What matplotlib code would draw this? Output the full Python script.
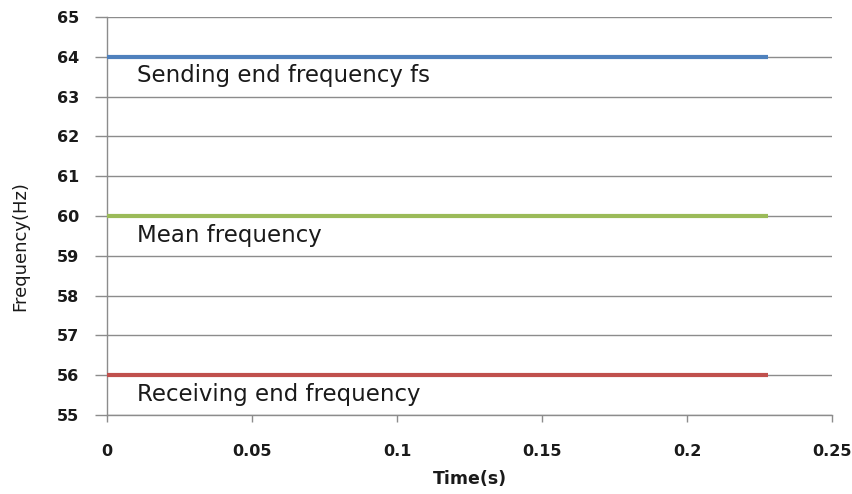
import matplotlib
matplotlib.use('Agg')
import matplotlib.pyplot as plt

# data
time_s = [0.0, 0.228]
sending_hz = [64, 64]
mean_hz = [60, 60]
receiving_hz = [56, 56]

series_labels = ['Sending end frequency fs', 'Mean frequency', 'Receiving end frequency']
x_ticks = [0, 0.05, 0.1, 0.15, 0.2, 0.25]
x_tick_labels = ['0', '0.05', '0.1', '0.15', '0.2', '0.25']
y_ticks = list(range(55, 66))

plt.rcParams['font.family'] = ['DejaVu Sans']

fig = plt.figure(figsize=(8.52, 4.94), dpi=100)
ax = fig.add_axes([107 / 852, 1 - 415 / 494, (832 - 107) / 852, (415 - 17) / 494])

ax.plot(time_s, sending_hz, color='#4F81BD', lw=3.0, solid_capstyle='butt', zorder=3)
ax.plot(time_s, mean_hz, color='#9BBB59', lw=3.0, solid_capstyle='butt', zorder=3)
ax.plot(time_s, receiving_hz, color='#C0504D', lw=3.0, solid_capstyle='butt', zorder=3)

for y, label in zip([sending_hz[0], mean_hz[0], receiving_hz[0]], series_labels):
    ax.text(0.0105, y - 0.48, label, fontsize=16.5, va='center', ha='left', color='#1a1a1a')

ax.set_xlim(0, 0.25)
ax.set_ylim(55, 65)
ax.set_xticks(x_ticks)
ax.set_xticklabels(x_tick_labels)
ax.set_yticks(y_ticks)

ax.grid(axis='y', color='#8c8c8c', lw=1)
ax.set_axisbelow(True)
for s in ['top', 'right']:
    ax.spines[s].set_visible(False)
for s in ['left', 'bottom']:
    ax.spines[s].set_color('#8c8c8c')
    ax.spines[s].set_linewidth(1)

ax.tick_params(axis='both', color='#8c8c8c', length=7, width=1, labelsize=11.5,
               labelcolor='#1a1a1a')
ax.tick_params(axis='x', length=5, pad=16)
ax.tick_params(axis='y', length=9, pad=11)
for lab in ax.get_xticklabels() + ax.get_yticklabels():
    lab.set_fontweight('bold')

ax.set_xlabel('Time(s)', fontsize=12.5, fontweight='bold', color='#1a1a1a', labelpad=8)
fig.text(20 / 852, 1 - 246 / 494, 'Frequency(Hz)', rotation=90, fontsize=13,
         color='#1a1a1a', ha='center', va='center',
         family=['Liberation Sans Narrow', 'DejaVu Sans'])

fig.savefig('out.png', dpi=100)
